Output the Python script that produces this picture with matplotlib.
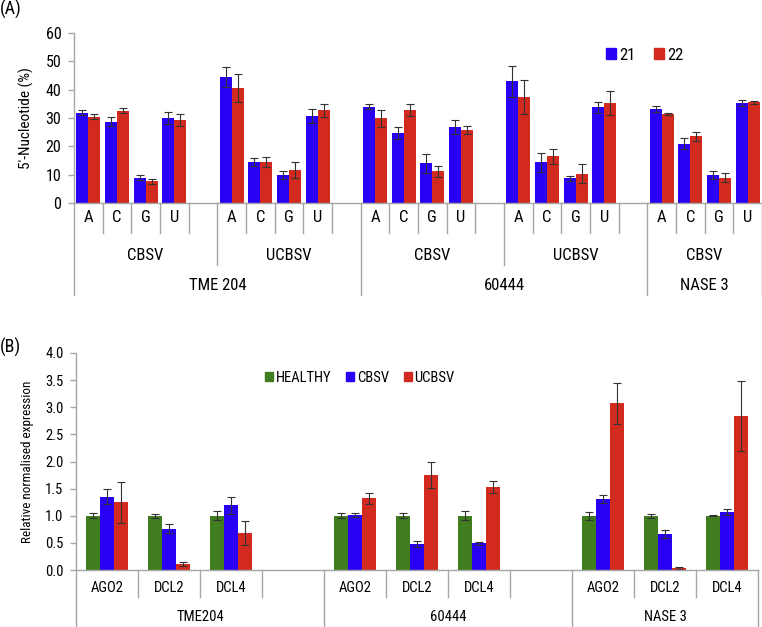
import matplotlib
matplotlib.use("Agg")
import matplotlib.pyplot as plt
from matplotlib.patches import Patch
import numpy as np

plt.rcParams['font.family'] = ['Roboto Condensed', 'Liberation Sans', 'DejaVu Sans']

# ---------------- Panel A data ----------------
nucleotides = ["A", "C", "G", "U"]
a_groups = ["CBSV", "UCBSV", "CBSV", "UCBSV", "CBSV"]
a_cultivars = ["TME 204", "60444", "NASE 3"]
a_series = ["21", "22"]
# values per (cultivar, virus) group, order A C G U
a_21 = [[31.9, 28.7, 9.0, 30.0],
        [44.4, 14.4, 9.9, 30.8],
        [34.0, 24.6, 14.0, 26.8],
        [42.9, 14.3, 8.7, 33.8],
        [33.3, 21.0, 9.9, 35.3]]
a_21_err = [[0.9, 1.6, 1.0, 2.0],
            [3.5, 1.5, 1.3, 2.4],
            [0.8, 2.1, 3.4, 2.4],
            [5.4, 3.5, 0.9, 2.0],
            [1.1, 1.8, 1.4, 0.9]]
a_22 = [[30.5, 32.5, 7.7, 29.3],
        [40.6, 14.4, 11.8, 32.7],
        [29.9, 32.8, 11.2, 25.7],
        [37.3, 16.5, 10.4, 35.3],
        [31.4, 23.5, 9.0, 35.5]]
a_22_err = [[0.8, 0.9, 0.9, 2.0],
            [5.0, 1.7, 2.8, 2.4],
            [3.0, 2.2, 2.0, 1.5],
            [6.0, 2.6, 3.2, 4.3],
            [0.5, 1.6, 1.6, 0.5]]

# ---------------- Panel B data ----------------
genes = ["AGO2", "DCL2", "DCL4"]
b_cultivars = ["TME204", "60444", "NASE 3"]
b_series = ["HEALTHY", "CBSV", "UCBSV"]
b_healthy = [[1.00, 1.00, 1.00], [1.00, 1.00, 1.00], [1.00, 1.00, 1.00]]
b_healthy_err = [[0.05, 0.04, 0.08], [0.05, 0.05, 0.08], [0.07, 0.04, 0.01]]
b_cbsv = [[1.35, 0.76, 1.19], [1.01, 0.48, 0.49], [1.31, 0.66, 1.07]]
b_cbsv_err = [[0.14, 0.08, 0.15], [0.04, 0.06, 0.02], [0.07, 0.07, 0.06]]
b_ucbsv = [[1.25, 0.11, 0.68], [1.32, 1.76, 1.53], [3.07, 0.03, 2.84]]
b_ucbsv_err = [[0.38, 0.04, 0.22], [0.10, 0.24, 0.11], [0.38, 0.02, 0.65]]

BLUE = "#2a00f5"
RED = "#d22a1e"
GREEN = "#3f7d1f"
GRAY = "#a6a6a6"
ECOL = "#333333"

W, H = 762, 627
fig = plt.figure(figsize=(W / 100, H / 100), dpi=100)


def px_axes(left, right, top, bottom):
    return fig.add_axes([left / W, 1 - bottom / H, (right - left) / W, (bottom - top) / H])


def style_axes(ax):
    for s in ["top", "right"]:
        ax.spines[s].set_visible(False)
    for s in ["left", "bottom"]:
        ax.spines[s].set_color(GRAY)
        ax.spines[s].set_linewidth(1.0)
    ax.tick_params(axis="y", color=GRAY, length=4, width=1, pad=5)
    ax.set_xticks([])


# ================= Panel A =================
axA = px_axes(74, 762, 33, 203)
style_axes(axA)
nslotA = 24
a_starts = [0, 5, 10, 15, 20]
bwA = 0.42
x21, x22, h21, h22, e21, e22 = [], [], [], [], [], []
for g, s in enumerate(a_starts):
    for i in range(4):
        x = s + i
        x21.append(x - bwA / 2)
        x22.append(x + bwA / 2)
        h21.append(a_21[g][i]); e21.append(a_21_err[g][i])
        h22.append(a_22[g][i]); e22.append(a_22_err[g][i])
ekw = dict(ecolor=ECOL, elinewidth=0.8, capsize=3, capthick=0.8)
axA.bar(x21, h21, width=bwA, color=BLUE, yerr=e21, error_kw=ekw, label=a_series[0], zorder=2)
axA.bar(x22, h22, width=bwA, color=RED, yerr=e22, error_kw=ekw, label=a_series[1], zorder=2)
axA.set_xlim(-0.5, nslotA - 0.5)
axA.set_ylim(0, 60)
axA.set_yticks(np.arange(0, 61, 10))
axA.tick_params(axis="y", labelsize=11.5)
axA.set_ylabel("5'-Nucleotide (%)", fontsize=11)
axA.yaxis.set_label_coords(-0.058, 0.5)

trA = axA.get_xaxis_transform()
hA = 170.0
lvl = {1: -30 / hA, 2: -62 / hA, 3: -92 / hA}
for k in range(0, nslotA + 1):
    if k in (0, 10, 20, 24):
        yb = lvl[3]
    elif k in (5, 15):
        yb = lvl[2]
    else:
        yb = lvl[1]
    axA.plot([k - 0.5, k - 0.5], [0, yb], transform=trA, color=GRAY, lw=1, clip_on=False)
for g, s in enumerate(a_starts):
    for i, n in enumerate(nucleotides):
        axA.text(s + i, -14 / hA, n, transform=trA, ha="center", va="center", fontsize=12)
    axA.text(s + 2 if g < 4 else s + 1.5, -52 / hA, a_groups[g], transform=trA,
             ha="center", va="center", fontsize=12)
for c, xc in zip(a_cultivars, [4.5, 14.5, 21.5]):
    axA.text(xc, -82 / hA, c, transform=trA, ha="center", va="center", fontsize=12)

axA.legend(handles=[Patch(color=BLUE, label="21"), Patch(color=RED, label="22")],
           ncol=2, loc="center", bbox_to_anchor=(0.83, 0.87), frameon=False,
           handlelength=0.6, handleheight=0.6, handletextpad=0.2, columnspacing=1.1,
           fontsize=12)

fig.text(0.0, 1 - 9 / H, "(A)", fontsize=13, ha="left", va="center")

# ================= Panel B =================
axB = px_axes(76, 758, 353, 570)
style_axes(axB)
nslotB = 11
b_starts = [0, 4, 8]
bwB = 0.225
xs = {0: [], 1: [], 2: []}
hs = {0: [], 1: [], 2: []}
es = {0: [], 1: [], 2: []}
vals = [b_healthy, b_cbsv, b_ucbsv]
errs = [b_healthy_err, b_cbsv_err, b_ucbsv_err]
for g, s in enumerate(b_starts):
    for i in range(3):
        for j in range(3):
            xs[j].append(s + i + (j - 1) * bwB)
            hs[j].append(vals[j][g][i])
            es[j].append(errs[j][g][i])
for j, col in enumerate([GREEN, BLUE, RED]):
    axB.bar(xs[j], hs[j], width=bwB, color=col, yerr=es[j], error_kw=ekw, zorder=2)
axB.set_xlim(-0.5, nslotB - 0.5)
axB.set_ylim(0, 4.0)
axB.set_yticks(np.arange(0, 4.01, 0.5))
axB.set_yticklabels([f"{v:.1f}" for v in np.arange(0, 4.01, 0.5)])
axB.tick_params(axis="y", labelsize=10.5)
axB.set_ylabel("Relative normalised expression", fontsize=9.5)
axB.yaxis.set_label_coords(-0.062, 0.5)

trB = axB.get_xaxis_transform()
hB = 217.0
for k in range(0, nslotB + 1):
    yb = -57 / hB if k in (0, 4, 8, 11) else -27 / hB
    axB.plot([k - 0.5, k - 0.5], [0, yb], transform=trB, color=GRAY, lw=1, clip_on=False)
for g, s in enumerate(b_starts):
    for i, n in enumerate(genes):
        axB.text(s + i, -18 / hB, n, transform=trB, ha="center", va="center", fontsize=10.5)
for c, xc in zip(b_cultivars, [1.5, 5.5, 9.0]):
    axB.text(xc, -47 / hB, c, transform=trB, ha="center", va="center", fontsize=10.5)

axB.legend(handles=[Patch(color=c, label=l) for c, l in zip([GREEN, BLUE, RED], b_series)],
           ncol=3, loc="center", bbox_to_anchor=(0.416, 0.885), frameon=False,
           handlelength=0.55, handleheight=0.55, handletextpad=0.2, columnspacing=1.0,
           fontsize=10.5)

fig.text(0.0, 1 - 347 / H, "(B)", fontsize=13, ha="left", va="center")

fig.savefig("out.png", dpi=100)
